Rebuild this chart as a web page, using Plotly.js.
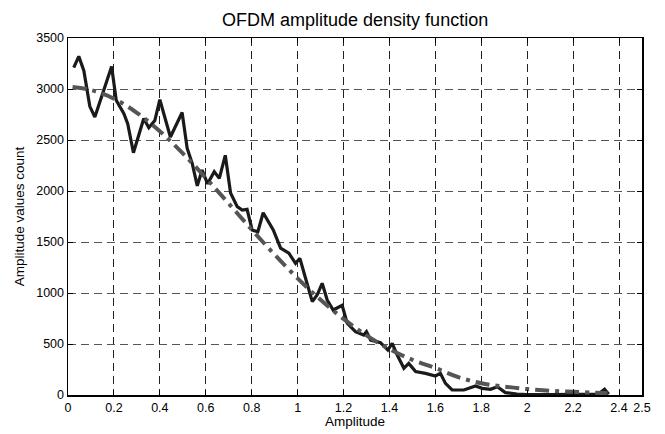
<!DOCTYPE html>
<html>
<head>
<meta charset="utf-8">
<script src="https://cdn.plot.ly/plotly-3.0.1.min.js"></script>
<style>html,body{margin:0;padding:0;background:#fff;}#chart{width:665px;height:434px;}</style>
</head>
<body>
<div id="chart"></div>
<script>
// Measured histogram (black solid line)
const measX = [0.025,0.047,0.069,0.095,0.117,0.15,0.19,0.21,0.243,0.26,0.285,0.33,0.352,0.378,0.40,0.446,0.497,0.519,0.541,0.563,0.584,0.608,0.637,0.659,0.685,0.708,0.737,0.759,0.78,0.802,0.827,0.85,0.894,0.926,0.962,0.991,1.01,1.034,1.064,1.085,1.107,1.129,1.155,1.194,1.216,1.252,1.288,1.3,1.318,1.361,1.393,1.412,1.434,1.463,1.484,1.514,1.557,1.6,1.622,1.644,1.673,1.724,1.775,1.804,1.84,1.87,1.905,1.956,2.0,2.1,2.2,2.31,2.337,2.355];
const measY = [3210,3320,3180,2830,2725,2950,3220,2890,2760,2660,2375,2710,2620,2690,2895,2530,2770,2420,2270,2050,2206,2070,2190,2124,2350,1980,1846,1814,1820,1618,1600,1787,1618,1440,1390,1291,1340,1150,915,980,1095,931,833,880,703,621,588,621,539,513,441,507,392,262,310,229,212,186,212,114,49,49,88,65,56,81,23,10,5,5,5,10,56,8];
// Theoretical density (gray dash-dot line)
const fitX = [0.02,0.1,0.2,0.3,0.4,0.5,0.6,0.7,0.8,0.9,1.0,1.1,1.2,1.3,1.4,1.5,1.6,1.7,1.8,1.9,2.0,2.1,2.2,2.3,2.35];
const fitY = [3020,2990,2905,2767,2586,2369,2128,1877,1622,1376,1144,933,746,585,450,345,265,175,115,82,58,42,32,22,18];
const xTicks = [0,0.2,0.4,0.6,0.8,1,1.2,1.4,1.6,1.8,2,2.2,2.4,2.5];
const xTickText = ['0','0.2','0.4','0.6','0.8','1','1.2','1.4','1.6','1.8','2','2.2','2.4','2.5'];
const yTicks = [0,500,1000,1500,2000,2500,3000,3500];

const font = 'Arial, "Liberation Sans", sans-serif';
const traces = [
  {x: measX, y: measY, mode: 'lines', line: {color: '#1a1a1a', width: 3.2}, hoverinfo: 'skip'},
  {x: fitX, y: fitY, mode: 'lines', line: {color: '#555555', width: 4, dash: '14px,6px,4px,6px', shape: 'spline'}, hoverinfo: 'skip'}
];
const layout = {
  width: 665, height: 434,
  margin: {l: 68, r: 23, t: 38, b: 39, pad: 0},
  paper_bgcolor: '#fff', plot_bgcolor: '#fff',
  showlegend: false,
  font: {family: font, size: 12, color: '#000'},
  title: {text: 'OFDM amplitude density function', font: {family: font, size: 18, color: '#000'},
          x: 0.534, xanchor: 'center', y: 1 - 20/434, yanchor: 'middle', yref: 'container'},
  xaxis: {
    range: [0, 2.5], tickvals: xTicks, ticktext: xTickText,
    ticks: 'inside', ticklen: 5, tickwidth: 1, tickcolor: '#000',
    showline: true, linecolor: '#000', linewidth: 1.5, mirror: 'ticks',
    showgrid: true, gridcolor: '#222', gridwidth: 1, griddash: '8px,5px',
    zeroline: false, tickfont: {size: 12.5},
    title: {text: 'Amplitude', font: {size: 13.5}, standoff: 3}
  },
  yaxis: {
    range: [0, 3500], tickvals: yTicks,
    ticks: 'inside', ticklen: 5, tickwidth: 1, tickcolor: '#000',
    showline: true, linecolor: '#000', linewidth: 1.5, mirror: 'ticks',
    showgrid: true, gridcolor: '#555', gridwidth: 1, griddash: '8px,5px',
    zeroline: false, tickfont: {size: 12.5},
    title: {text: 'Amplitude values count', font: {size: 13.5}, standoff: 8}
  }
};
Plotly.newPlot('chart', traces, layout, {staticPlot: true, displayModeBar: false});
</script>
</body>
</html>
